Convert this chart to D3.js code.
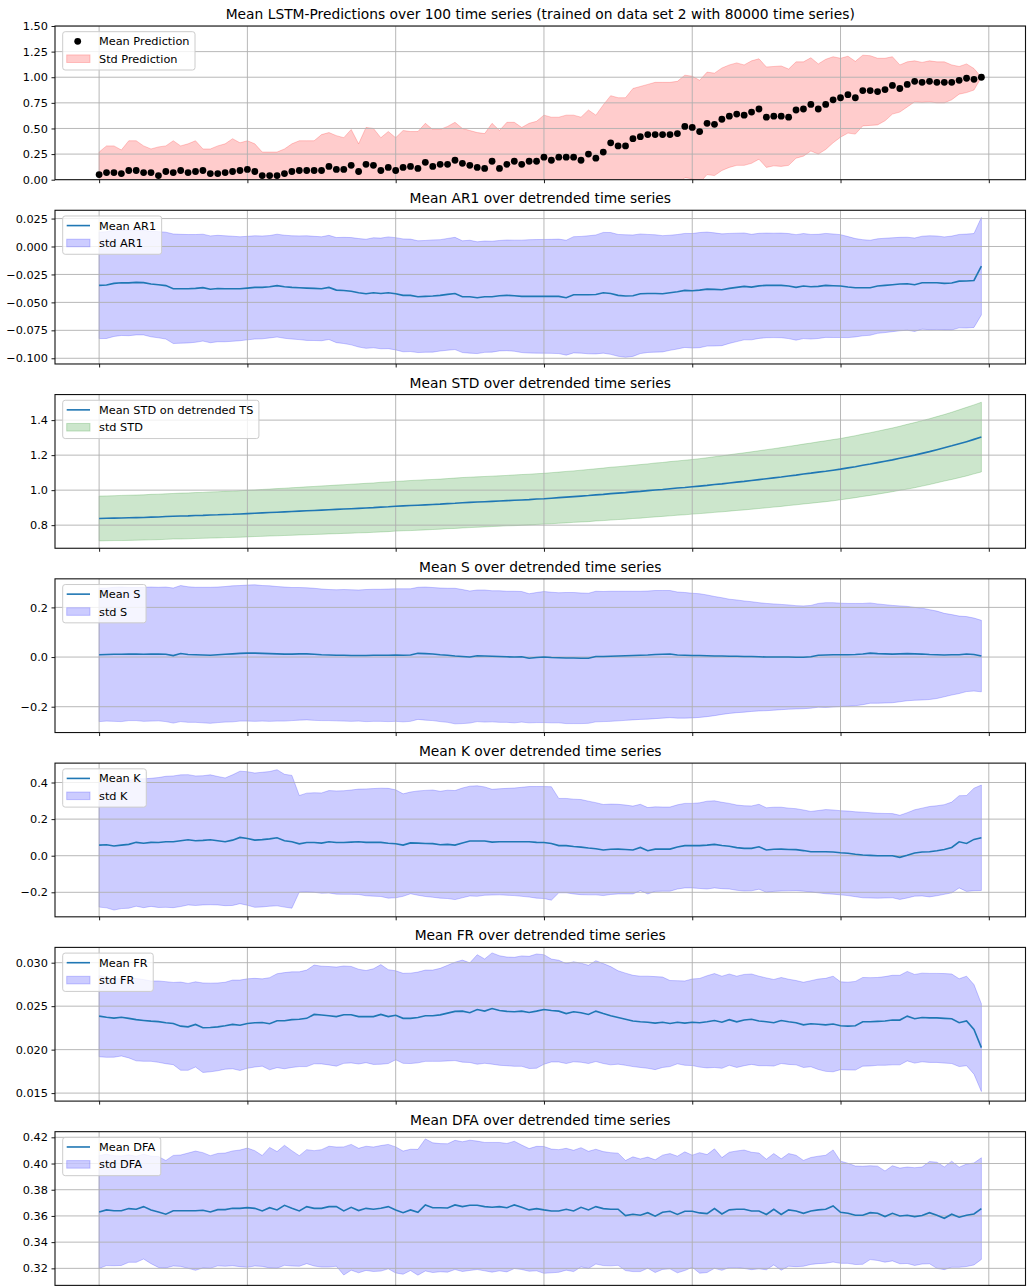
<!DOCTYPE html>
<html><head><meta charset="utf-8">
<script src="https://cdn.jsdelivr.net/npm/d3@7"></script>
<style>
body{margin:0;background:#fff}
svg{display:block}
text{font-family:"DejaVu Sans",sans-serif;fill:#000}
</style>
</head><body>
<svg id="c" width="1033" height="1286"></svg>
<script>
// ---------- data ----------
const steps = d3.range(120); // time index 0..119

const predMean = [0.05,0.07,0.07,0.06,0.09,0.09,0.07,0.07,0.04,0.08,
 0.07,0.09,0.07,0.08,0.09,0.06,0.06,0.07,0.08,0.09,
 0.10,0.08,0.04,0.04,0.04,0.06,0.08,0.09,0.09,0.09,
 0.09,0.13,0.10,0.10,0.14,0.08,0.15,0.14,0.09,0.12,
 0.09,0.12,0.13,0.11,0.17,0.13,0.15,0.15,0.19,0.16,
 0.14,0.12,0.11,0.18,0.11,0.15,0.18,0.15,0.18,0.18,
 0.22,0.19,0.22,0.22,0.22,0.19,0.25,0.21,0.27,0.36,
 0.33,0.33,0.40,0.42,0.44,0.44,0.44,0.44,0.45,0.52,
 0.51,0.47,0.55,0.54,0.59,0.62,0.64,0.63,0.66,0.69,
 0.61,0.62,0.62,0.61,0.68,0.69,0.735,0.69,0.735,0.78,
 0.80,0.83,0.80,0.87,0.87,0.86,0.88,0.92,0.89,0.93,
 0.96,0.95,0.96,0.95,0.95,0.95,0.97,0.99,0.98,1.00];
const predStd = [0.22,0.26,0.26,0.23,0.29,0.29,0.26,0.23,0.28,0.25,
 0.31,0.24,0.28,0.30,0.21,0.24,0.27,0.28,0.32,0.27,
 0.28,0.27,0.23,0.23,0.23,0.24,0.27,0.29,0.29,0.29,
 0.35,0.33,0.33,0.31,0.35,0.27,0.36,0.36,0.32,0.35,
 0.32,0.36,0.34,0.36,0.38,0.36,0.34,0.37,0.37,0.34,
 0.34,0.34,0.34,0.37,0.37,0.41,0.38,0.36,0.37,0.39,
 0.41,0.42,0.39,0.41,0.41,0.42,0.43,0.42,0.46,0.46,
 0.47,0.47,0.49,0.49,0.49,0.51,0.51,0.51,0.51,0.50,
 0.50,0.50,0.50,0.50,0.50,0.50,0.50,0.49,0.50,0.49,
 0.49,0.485,0.49,0.47,0.47,0.46,0.455,0.44,0.44,0.42,
 0.385,0.375,0.355,0.345,0.34,0.325,0.305,0.28,0.23,0.22,
 0.20,0.195,0.20,0.20,0.20,0.17,0.135,0.14,0.105,0.0];

const ar1Mean = [-0.0348,-0.0345,-0.0330,-0.0324,-0.0325,-0.0321,-0.0323,-0.0336,-0.0342,-0.0350,
 -0.0378,-0.0378,-0.0378,-0.0375,-0.0368,-0.0383,-0.0376,-0.0378,-0.0378,-0.0378,
 -0.0372,-0.0366,-0.0366,-0.0360,-0.0350,-0.0360,-0.0366,-0.0369,-0.0372,-0.0375,
 -0.0378,-0.0366,-0.0390,-0.0393,-0.0400,-0.0414,-0.0423,-0.0414,-0.0420,-0.0414,
 -0.0423,-0.0437,-0.0437,-0.0449,-0.0446,-0.0443,-0.0437,-0.0428,-0.0420,-0.0449,
 -0.0449,-0.0458,-0.0449,-0.0449,-0.0440,-0.0437,-0.0440,-0.0446,-0.0446,-0.0446,
 -0.0446,-0.0446,-0.0446,-0.0458,-0.0432,-0.0432,-0.0432,-0.0429,-0.0414,-0.0420,
 -0.0437,-0.0443,-0.0440,-0.0423,-0.0420,-0.0420,-0.0423,-0.0414,-0.0405,-0.0393,
 -0.0396,-0.0390,-0.0381,-0.0384,-0.0387,-0.0375,-0.0366,-0.0357,-0.0363,-0.0352,
 -0.0348,-0.0348,-0.0348,-0.0354,-0.0366,-0.0354,-0.0360,-0.0357,-0.0348,-0.0351,
 -0.0354,-0.0363,-0.0369,-0.0369,-0.0369,-0.0354,-0.0348,-0.0342,-0.0336,-0.0333,
 -0.0342,-0.0324,-0.0324,-0.0324,-0.0330,-0.0327,-0.0310,-0.0309,-0.0304,-0.0176];
const ar1Std = [0.0476,0.0478,0.0475,0.0472,0.0473,0.0470,0.0468,0.0472,0.0475,0.0478,
 0.0490,0.0487,0.0485,0.0482,0.0478,0.0478,0.0476,0.0474,0.0470,0.0465,
 0.0463,0.0462,0.0460,0.0458,0.0460,0.0461,0.0462,0.0464,0.0468,0.0466,
 0.0465,0.0466,0.0470,0.0475,0.0480,0.0485,0.0488,0.0492,0.0495,0.0500,
 0.0502,0.0505,0.0503,0.0500,0.0500,0.0502,0.0498,0.0500,0.0502,0.0500,
 0.0505,0.0500,0.0498,0.0496,0.0494,0.0495,0.0497,0.0503,0.0507,0.0508,
 0.0509,0.0510,0.0512,0.0514,0.0520,0.0522,0.0528,0.0532,0.0540,0.0545,
 0.0545,0.0548,0.0543,0.0535,0.0528,0.0525,0.0520,0.0515,0.0512,0.0510,
 0.0512,0.0515,0.0510,0.0506,0.0500,0.0492,0.0485,0.0478,0.0472,0.0470,
 0.0468,0.0467,0.0468,0.0470,0.0472,0.0470,0.0468,0.0466,0.0465,0.0463,
 0.0460,0.0452,0.0440,0.0430,0.0425,0.0423,0.0422,0.0420,0.0418,0.0416,
 0.0418,0.0416,0.0420,0.0418,0.0416,0.0420,0.0418,0.0420,0.0420,0.0436];

const stdMean = [0.838,0.839,0.840,0.841,0.842,0.843,0.844,0.846,0.847,0.849,
 0.851,0.852,0.853,0.855,0.856,0.858,0.859,0.861,0.862,0.864,
 0.866,0.868,0.870,0.872,0.874,0.876,0.878,0.880,0.882,0.884,
 0.886,0.888,0.890,0.892,0.894,0.896,0.898,0.900,0.903,0.905,
 0.908,0.910,0.912,0.914,0.916,0.918,0.920,0.923,0.925,0.928,
 0.930,0.932,0.934,0.936,0.938,0.940,0.942,0.944,0.946,0.949,
 0.951,0.954,0.957,0.960,0.963,0.966,0.969,0.973,0.976,0.980,
 0.983,0.986,0.990,0.993,0.997,1.001,1.004,1.008,1.012,1.015,
 1.019,1.023,1.027,1.032,1.036,1.041,1.046,1.050,1.055,1.060,
 1.065,1.070,1.075,1.081,1.086,1.092,1.097,1.103,1.108,1.114,
 1.120,1.127,1.134,1.142,1.149,1.157,1.165,1.173,1.182,1.191,
 1.200,1.210,1.220,1.231,1.242,1.253,1.265,1.277,1.290,1.303];
const stdStd = [0.128,0.128,0.128,0.129,0.129,0.129,0.129,0.130,0.130,0.130,
 0.130,0.131,0.131,0.131,0.131,0.132,0.132,0.132,0.132,0.133,
 0.133,0.133,0.134,0.134,0.135,0.135,0.136,0.136,0.137,0.137,
 0.138,0.138,0.139,0.139,0.140,0.140,0.141,0.141,0.142,0.142,
 0.142,0.142,0.143,0.143,0.143,0.143,0.143,0.143,0.144,0.144,
 0.144,0.144,0.144,0.144,0.144,0.144,0.145,0.145,0.145,0.145,
 0.145,0.146,0.146,0.147,0.147,0.148,0.149,0.149,0.150,0.151,
 0.151,0.152,0.152,0.153,0.153,0.154,0.154,0.155,0.155,0.156,
 0.156,0.157,0.158,0.159,0.160,0.161,0.162,0.163,0.164,0.165,
 0.166,0.167,0.168,0.169,0.170,0.171,0.172,0.173,0.174,0.175,
 0.175,0.176,0.177,0.178,0.179,0.180,0.181,0.182,0.183,0.185,
 0.186,0.187,0.188,0.189,0.190,0.192,0.194,0.196,0.197,0.199];

const sMean = [0.009,0.010,0.011,0.011,0.012,0.012,0.011,0.012,0.012,0.011,
 0.006,0.014,0.010,0.009,0.008,0.007,0.009,0.011,0.013,0.015,
 0.016,0.016,0.015,0.014,0.013,0.012,0.012,0.013,0.013,0.011,
 0.009,0.008,0.007,0.007,0.006,0.006,0.006,0.007,0.007,0.007,
 0.008,0.007,0.008,0.015,0.014,0.012,0.009,0.007,0.004,0.002,
 0.000,0.005,0.004,0.003,0.002,0.001,0.000,0.001,-0.005,-0.002,
 0.000,-0.002,-0.003,-0.004,-0.004,-0.005,-0.005,0.002,0.002,0.003,
 0.004,0.005,0.006,0.007,0.008,0.010,0.011,0.012,0.008,0.007,
 0.006,0.006,0.005,0.004,0.004,0.003,0.003,0.002,0.002,0.001,
 0.000,0.000,0.000,0.000,-0.001,-0.001,0.001,0.007,0.008,0.009,
 0.009,0.009,0.010,0.012,0.016,0.014,0.013,0.012,0.013,0.014,
 0.013,0.012,0.010,0.009,0.008,0.009,0.009,0.012,0.010,0.004];
const sStd = [0.269,0.268,0.270,0.271,0.268,0.268,0.270,0.270,0.269,0.271,
 0.272,0.274,0.273,0.272,0.273,0.274,0.273,0.273,0.274,0.273,
 0.274,0.275,0.273,0.273,0.271,0.270,0.268,0.267,0.266,0.266,
 0.265,0.264,0.264,0.265,0.265,0.264,0.266,0.266,0.266,0.267,
 0.267,0.268,0.267,0.266,0.268,0.268,0.269,0.270,0.273,0.270,
 0.266,0.265,0.266,0.264,0.265,0.264,0.265,0.263,0.260,0.262,
 0.264,0.263,0.262,0.264,0.264,0.263,0.262,0.263,0.262,0.262,
 0.261,0.260,0.259,0.258,0.258,0.258,0.257,0.256,0.254,0.253,
 0.251,0.249,0.245,0.240,0.235,0.230,0.227,0.224,0.221,0.218,
 0.216,0.214,0.212,0.210,0.208,0.207,0.207,0.209,0.211,0.210,
 0.208,0.207,0.206,0.204,0.202,0.200,0.198,0.196,0.193,0.190,
 0.187,0.185,0.181,0.176,0.168,0.162,0.156,0.151,0.147,0.144];

const kMean = [0.058,0.060,0.053,0.058,0.062,0.073,0.068,0.073,0.072,0.076,
 0.076,0.082,0.087,0.082,0.084,0.087,0.082,0.076,0.085,0.100,
 0.094,0.085,0.088,0.092,0.098,0.082,0.076,0.065,0.072,0.072,
 0.069,0.076,0.072,0.072,0.074,0.076,0.073,0.073,0.073,0.068,
 0.065,0.058,0.070,0.069,0.067,0.066,0.060,0.062,0.058,0.070,
 0.080,0.080,0.080,0.074,0.076,0.076,0.076,0.076,0.076,0.073,
 0.072,0.067,0.055,0.055,0.050,0.047,0.042,0.038,0.031,0.035,
 0.036,0.034,0.031,0.045,0.027,0.036,0.036,0.036,0.048,0.055,
 0.055,0.055,0.058,0.062,0.056,0.052,0.044,0.040,0.040,0.049,
 0.031,0.035,0.036,0.034,0.033,0.028,0.022,0.022,0.022,0.020,
 0.016,0.013,0.008,0.004,0.002,0.000,0.000,0.000,-0.009,0.002,
 0.015,0.020,0.022,0.027,0.034,0.045,0.076,0.067,0.089,0.098];
const kStd = [0.339,0.345,0.350,0.347,0.349,0.349,0.352,0.350,0.355,0.358,
 0.360,0.360,0.356,0.354,0.353,0.355,0.351,0.349,0.357,0.362,
 0.365,0.367,0.368,0.368,0.372,0.363,0.363,0.264,0.270,0.272,
 0.274,0.280,0.282,0.283,0.285,0.288,0.292,0.294,0.296,0.300,
 0.295,0.280,0.278,0.285,0.290,0.293,0.292,0.296,0.298,0.300,
 0.300,0.302,0.296,0.289,0.290,0.292,0.294,0.298,0.302,0.305,
 0.306,0.310,0.258,0.258,0.259,0.260,0.256,0.252,0.249,0.247,
 0.245,0.243,0.240,0.236,0.236,0.231,0.230,0.230,0.230,0.231,
 0.231,0.234,0.240,0.238,0.236,0.234,0.233,0.233,0.232,0.232,
 0.231,0.230,0.229,0.226,0.224,0.222,0.220,0.225,0.230,0.230,
 0.230,0.231,0.232,0.234,0.233,0.232,0.231,0.230,0.230,0.233,
 0.236,0.240,0.247,0.246,0.245,0.248,0.252,0.262,0.280,0.288];

const frMean = [0.02385,0.02372,0.02363,0.02372,0.02360,0.02345,0.02336,0.02328,0.02322,0.02310,
 0.02300,0.02270,0.02262,0.02290,0.02252,0.02255,0.02262,0.02275,0.02290,0.02280,
 0.02300,0.02310,0.02312,0.02298,0.02333,0.02333,0.02345,0.02350,0.02360,0.02405,
 0.02398,0.02390,0.02380,0.02402,0.02402,0.02380,0.02380,0.02380,0.02405,0.02380,
 0.02395,0.02360,0.02360,0.02370,0.02390,0.02390,0.02400,0.02420,0.02440,0.02443,
 0.02425,0.02462,0.02443,0.02473,0.02450,0.02440,0.02435,0.02443,0.02428,0.02443,
 0.02462,0.02450,0.02443,0.02415,0.02435,0.02425,0.02405,0.02443,0.02415,0.02390,
 0.02370,0.02350,0.02330,0.02320,0.02315,0.02305,0.02315,0.02300,0.02315,0.02305,
 0.02315,0.02309,0.02320,0.02335,0.02315,0.02345,0.02320,0.02340,0.02350,0.02330,
 0.02320,0.02309,0.02335,0.02320,0.02310,0.02285,0.02298,0.02292,0.02285,0.02295,
 0.02275,0.02271,0.02275,0.02320,0.02320,0.02325,0.02330,0.02340,0.02340,0.02385,
 0.02355,0.02370,0.02365,0.02365,0.02360,0.02355,0.02310,0.02330,0.02233,0.02023];
const frStd = [0.00467,0.00460,0.00450,0.00445,0.00455,0.00474,0.00470,0.00462,0.00468,0.00472,
 0.00473,0.00507,0.00500,0.00490,0.00515,0.00510,0.00505,0.00500,0.00510,0.00520,
 0.00515,0.00510,0.00502,0.00530,0.00540,0.00553,0.00550,0.00545,0.00555,0.00568,
 0.00562,0.00566,0.00570,0.00560,0.00555,0.00545,0.00530,0.00550,0.00573,0.00540,
 0.00512,0.00518,0.00520,0.00522,0.00525,0.00525,0.00535,0.00550,0.00566,0.00587,
 0.00573,0.00630,0.00600,0.00640,0.00630,0.00625,0.00627,0.00635,0.00645,0.00657,
 0.00630,0.00592,0.00585,0.00575,0.00575,0.00570,0.00565,0.00580,0.00575,0.00565,
 0.00537,0.00530,0.00525,0.00525,0.00530,0.00535,0.00520,0.00495,0.00478,0.00485,
 0.00498,0.00510,0.00530,0.00540,0.00530,0.00525,0.00525,0.00525,0.00520,0.00515,
 0.00505,0.00498,0.00495,0.00490,0.00485,0.00490,0.00495,0.00520,0.00535,0.00550,
 0.00505,0.00505,0.00510,0.00510,0.00508,0.00505,0.00510,0.00515,0.00515,0.00515,
 0.00510,0.00510,0.00512,0.00512,0.00515,0.00515,0.00505,0.00515,0.00515,0.00505];

const dfaMean = [0.3630,0.3646,0.3640,0.3640,0.3656,0.3651,0.3671,0.3646,0.3630,0.3613,
 0.3640,0.3640,0.3640,0.3640,0.3643,0.3630,0.3648,0.3648,0.3658,0.3658,
 0.3663,0.3658,0.3638,0.3663,0.3646,0.3681,0.3658,0.3638,0.3671,0.3658,
 0.3658,0.3671,0.3671,0.3638,0.3666,0.3641,0.3658,0.3651,0.3658,0.3671,
 0.3646,0.3625,0.3646,0.3628,0.3684,0.3663,0.3663,0.3661,0.3684,0.3671,
 0.3681,0.3681,0.3671,0.3666,0.3671,0.3663,0.3684,0.3666,0.3646,0.3656,
 0.3646,0.3638,0.3638,0.3651,0.3638,0.3666,0.3646,0.3671,0.3656,0.3651,
 0.3651,0.3603,0.3613,0.3605,0.3625,0.3598,0.3628,0.3636,0.3611,0.3636,
 0.3636,0.3623,0.3618,0.3656,0.3615,0.3646,0.3651,0.3651,0.3638,0.3638,
 0.3611,0.3651,0.3611,0.3646,0.3638,0.3620,0.3638,0.3646,0.3651,0.3676,
 0.3628,0.3620,0.3605,0.3605,0.3625,0.3620,0.3595,0.3620,0.3600,0.3605,
 0.3595,0.3603,0.3625,0.3605,0.3582,0.3613,0.3590,0.3605,0.3615,0.3656];
const dfaStd = [0.0431,0.0425,0.0420,0.0418,0.0410,0.0405,0.0400,0.0410,0.0423,0.0410,
 0.0422,0.0425,0.0440,0.0455,0.0440,0.0430,0.0429,0.0432,0.0438,0.0445,
 0.0455,0.0440,0.0423,0.0460,0.0445,0.0458,0.0440,0.0422,0.0435,0.0440,
 0.0448,0.0461,0.0455,0.0489,0.0480,0.0475,0.0474,0.0475,0.0479,0.0475,
 0.0481,0.0470,0.0463,0.0480,0.0504,0.0495,0.0489,0.0490,0.0493,0.0495,
 0.0497,0.0490,0.0490,0.0495,0.0490,0.0490,0.0486,0.0475,0.0468,0.0475,
 0.0484,0.0472,0.0468,0.0465,0.0463,0.0455,0.0447,0.0438,0.0435,0.0432,
 0.0428,0.0420,0.0438,0.0430,0.0424,0.0430,0.0436,0.0440,0.0445,0.0453,
 0.0428,0.0460,0.0450,0.0456,0.0430,0.0440,0.0445,0.0452,0.0448,0.0442,
 0.0422,0.0425,0.0425,0.0430,0.0425,0.0404,0.0408,0.0410,0.0412,0.0428,
 0.0390,0.0382,0.0376,0.0374,0.0358,0.0360,0.0348,0.0363,0.0365,0.0368,
 0.0373,0.0370,0.0390,0.0405,0.0392,0.0405,0.0382,0.0391,0.0389,0.0388];

// tick labels / axis settings
const xTicks = [0,20,40,60,80,100,120];
const predTicks = [0,0.25,0.5,0.75,1.0,1.25,1.5];
const ar1Ticks = [-0.1,-0.075,-0.05,-0.025,0,0.025];
const stdTicks = [0.8,1.0,1.2,1.4];
const sTicks = [-0.2,0,0.2];
const kTicks = [-0.2,0,0.2,0.4];
const frTicks = [0.015,0.020,0.025,0.030];
const dfaTicks = [0.32,0.34,0.36,0.38,0.40,0.42];

const titles = [
 "Mean LSTM-Predictions over 100 time series (trained on data set 2 with 80000 time series)",
 "Mean AR1 over detrended time series",
 "Mean STD over detrended time series",
 "Mean S over detrended time series",
 "Mean K over detrended time series",
 "Mean FR over detrended time series",
 "Mean DFA over detrended time series"];
const meanLabels = ["Mean Prediction","Mean AR1","Mean STD on detrended TS","Mean S","Mean K","Mean FR","Mean DFA"];
const stdLabels = ["Std Prediction","std AR1","std STD","std S","std K","std FR","std DFA"];

// ---------- chart ----------
const panels = [
 {mean:predMean, std:predStd, ticks:predTicks, fmt:".2f", domain:[0,1.5], fill:"rgba(255,0,0,0.2)", dots:true},
 {mean:ar1Mean, std:ar1Std, ticks:ar1Ticks, fmt:".3f", domain:[-0.1051,0.0324], fill:"rgba(0,0,255,0.2)"},
 {mean:stdMean, std:stdStd, ticks:stdTicks, fmt:".1f", domain:[0.668,1.546], fill:"rgba(0,128,0,0.2)"},
 {mean:sMean, std:sStd, ticks:sTicks, fmt:".1f", domain:[-0.304,0.315], fill:"rgba(0,0,255,0.2)"},
 {mean:kMean, std:kStd, ticks:kTicks, fmt:".1f", domain:[-0.334,0.506], fill:"rgba(0,0,255,0.2)"},
 {mean:frMean, std:frStd, ticks:frTicks, fmt:".3f", domain:[0.01408,0.03176], fill:"rgba(0,0,255,0.2)"},
 {mean:dfaMean, std:dfaStd, ticks:dfaTicks, fmt:".2f", domain:[0.307,0.4243], fill:"rgba(0,0,255,0.2)"}
];

const svg = d3.select("#c");
const L = 55, R = 1025.5, T0 = 26, STEP = 184.28, PH = 153.7;
const x = d3.scaleLinear().domain([-5.95,124.95]).range([L,R]);
const lineColor = "#1f77b4";

panels.forEach((p,i)=>{
  const top = T0 + i*STEP, bot = top + PH;
  const y = d3.scaleLinear().domain(p.domain).range([bot,top]);
  const g = svg.append("g");
  g.append("clipPath").attr("id","clip"+i).append("rect")
    .attr("x",L).attr("y",top).attr("width",R-L).attr("height",PH);
  const plot = g.append("g").attr("clip-path",`url(#clip${i})`);

  // std band
  const area = d3.area()
    .x((d,j)=>x(steps[j]))
    .y0((d,j)=>y(p.mean[j]-p.std[j]))
    .y1((d,j)=>y(p.mean[j]+p.std[j]));
  plot.append("path").datum(p.mean).attr("d",area)
    .attr("fill",p.fill).attr("stroke",p.fill).attr("stroke-width",1);

  // grid
  plot.selectAll(".gy").data(p.ticks).enter().append("line")
    .attr("x1",L).attr("x2",R).attr("y1",d=>y(d)).attr("y2",d=>y(d))
    .attr("stroke","#b0b0b0").attr("stroke-width",0.9);
  plot.selectAll(".gx").data(xTicks).enter().append("line")
    .attr("y1",top).attr("y2",bot).attr("x1",d=>x(d)).attr("x2",d=>x(d))
    .attr("stroke","#b0b0b0").attr("stroke-width",0.9);

  // mean
  if(p.dots){
    g.selectAll(".dot").data(p.mean).enter().append("circle")
      .attr("cx",(d,j)=>x(steps[j])).attr("cy",d=>y(d)).attr("r",3.4).attr("fill","#000");
  } else {
    const line = d3.line().x((d,j)=>x(steps[j])).y(d=>y(d));
    plot.append("path").datum(p.mean).attr("d",line)
      .attr("fill","none").attr("stroke",lineColor).attr("stroke-width",1.6);
  }

  // axes
  const ay = g.append("g").attr("transform",`translate(${L},0)`)
    .call(d3.axisLeft(y).tickValues(p.ticks).tickFormat(d3.format(p.fmt)).tickSize(3.5).tickPadding(3.5));
  ay.select(".domain").remove();
  ay.selectAll("text").attr("font-size","11.3px").attr("font-family","DejaVu Sans").attr("fill","#000");
  ay.selectAll("line").attr("stroke","#000").attr("stroke-width",0.9);
  const ax = g.append("g").attr("transform",`translate(0,${bot})`)
    .call(d3.axisBottom(x).tickValues(xTicks).tickFormat("").tickSize(3.5));
  ax.select(".domain").remove();
  ax.selectAll("line").attr("stroke","#000").attr("stroke-width",0.9);

  // spines
  g.append("rect").attr("x",L).attr("y",top).attr("width",R-L).attr("height",PH)
    .attr("fill","none").attr("stroke","#111").attr("stroke-width",1.1);

  // title
  g.append("text").attr("x",(L+R)/2).attr("y",top-7).attr("text-anchor","middle")
    .attr("font-size","13.8px").text(titles[i]);

  // legend
  const lg = g.append("g").attr("transform",`translate(62.7,${top+5.7})`);
  const box = lg.append("rect").attr("x",0).attr("y",0).attr("height",38.3).attr("rx",2.5)
    .attr("fill","rgba(255,255,255,0.8)").attr("stroke","#cccccc").attr("stroke-width",1);
  const t1 = lg.append("text").attr("x",36.3).attr("y",9.6).attr("dy","0.36em").attr("font-size","11.3px").text(meanLabels[i]);
  const t2 = lg.append("text").attr("x",36.3).attr("y",27).attr("dy","0.36em").attr("font-size","11.3px").text(stdLabels[i]);
  if(p.dots){
    lg.append("circle").attr("cx",15).attr("cy",9.6).attr("r",3.4).attr("fill","#000");
  } else {
    lg.append("line").attr("x1",4).attr("x2",27.3).attr("y1",9.6).attr("y2",9.6)
      .attr("stroke",lineColor).attr("stroke-width",1.6);
  }
  lg.append("rect").attr("x",4).attr("y",23.2).attr("width",23.3).attr("height",7.6)
    .attr("fill",p.fill).attr("stroke",p.fill).attr("stroke-width",1);
  const w = Math.max(t1.node().getComputedTextLength(), t2.node().getComputedTextLength());
  box.attr("width",36.3+w+5.5);
});
</script>
</body></html>
